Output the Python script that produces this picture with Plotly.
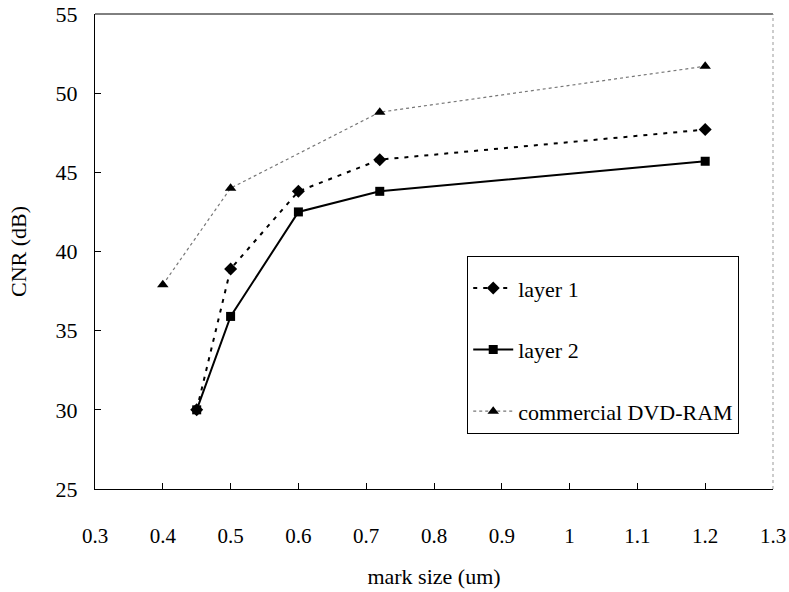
import plotly.graph_objects as go

# Data
layer1_x = [0.45, 0.5, 0.6, 0.72, 1.2]
layer1_y = [30.0, 38.9, 43.8, 45.8, 47.7]

layer2_x = [0.45, 0.5, 0.6, 0.72, 1.2]
layer2_y = [30.0, 35.9, 42.5, 43.8, 45.7]

dvd_x = [0.4, 0.5, 0.72, 1.2]
dvd_y = [37.9, 44.0, 48.8, 51.7]

x_ticks = [0.3, 0.4, 0.5, 0.6, 0.7, 0.8, 0.9, 1.0, 1.1, 1.2, 1.3]
x_tick_labels = ["0.3", "0.4", "0.5", "0.6", "0.7", "0.8", "0.9", "1", "1.1", "1.2", "1.3"]
y_ticks = [25, 30, 35, 40, 45, 50, 55]

FONT = "'Liberation Serif', 'Times New Roman', serif"

fig = go.Figure()
fig.add_trace(go.Scatter(
    x=layer1_x, y=layer1_y, name="layer 1", mode="lines+markers", legendgroup="a",
    line=dict(color="black", width=2, dash="4px,6px"),
    marker=dict(symbol="diamond", size=10, color="black"),
))
fig.add_trace(go.Scatter(
    x=layer2_x, y=layer2_y, name="layer 2", mode="lines+markers", legendgroup="b",
    line=dict(color="black", width=2),
    marker=dict(symbol="square", size=9, color="black"),
))
fig.add_trace(go.Scatter(
    x=dvd_x, y=dvd_y, name="commercial DVD-RAM", mode="lines+markers", legendgroup="c",
    line=dict(color="#777777", width=1.2, dash="dot"),
    marker=dict(symbol="triangle-up", size=10, color="black"),
))

fig.update_layout(
    width=789, height=592,
    margin=dict(l=95, r=16, t=14, b=103, autoexpand=False),
    paper_bgcolor="white", plot_bgcolor="white",
    font=dict(family=FONT, size=22, color="black"),
    showlegend=True,
    legend=dict(
        x=0.549, y=0.491, xanchor="left", yanchor="top",
        bgcolor="white", bordercolor="black", borderwidth=1,
        font=dict(family=FONT, size=22, color="black"),
        tracegroupgap=30, itemwidth=40,
        title=dict(text=" ", font=dict(size=8)),
    ),
    xaxis=dict(
        range=[0.3, 1.3], tickvals=x_ticks, ticktext=x_tick_labels,
        ticks="inside", ticklen=6, tickcolor="black", automargin=False,
        showline=True, linecolor="black", linewidth=1, mirror=False,
        showgrid=False, zeroline=False, ticklabelstandoff=28,
        tickfont=dict(family=FONT, size=21),
        title=dict(text="mark size (um)", font=dict(family=FONT, size=22), standoff=21),
    ),
    yaxis=dict(
        range=[25, 55], tickvals=y_ticks,
        ticks="inside", ticklen=6, tickcolor="black", automargin=False,
        showline=True, linecolor="black", linewidth=1, mirror=False,
        showgrid=False, zeroline=False, ticklabelstandoff=12,
        tickfont=dict(family=FONT, size=22),
        title=dict(text="CNR (dB)", font=dict(family=FONT, size=22), standoff=22),
    ),
    shapes=[
        dict(type="line", xref="paper", yref="paper", x0=0, x1=1, y0=1, y1=1,
             line=dict(color="black", width=1)),
        dict(type="line", xref="paper", yref="paper", x0=1, x1=1, y0=0, y1=1,
             line=dict(color="#999999", width=1, dash="dot")),
    ],
)

fig.write_html("out.html", config={"displayModeBar": False},
               post_script="document.body.style.margin='0';")
